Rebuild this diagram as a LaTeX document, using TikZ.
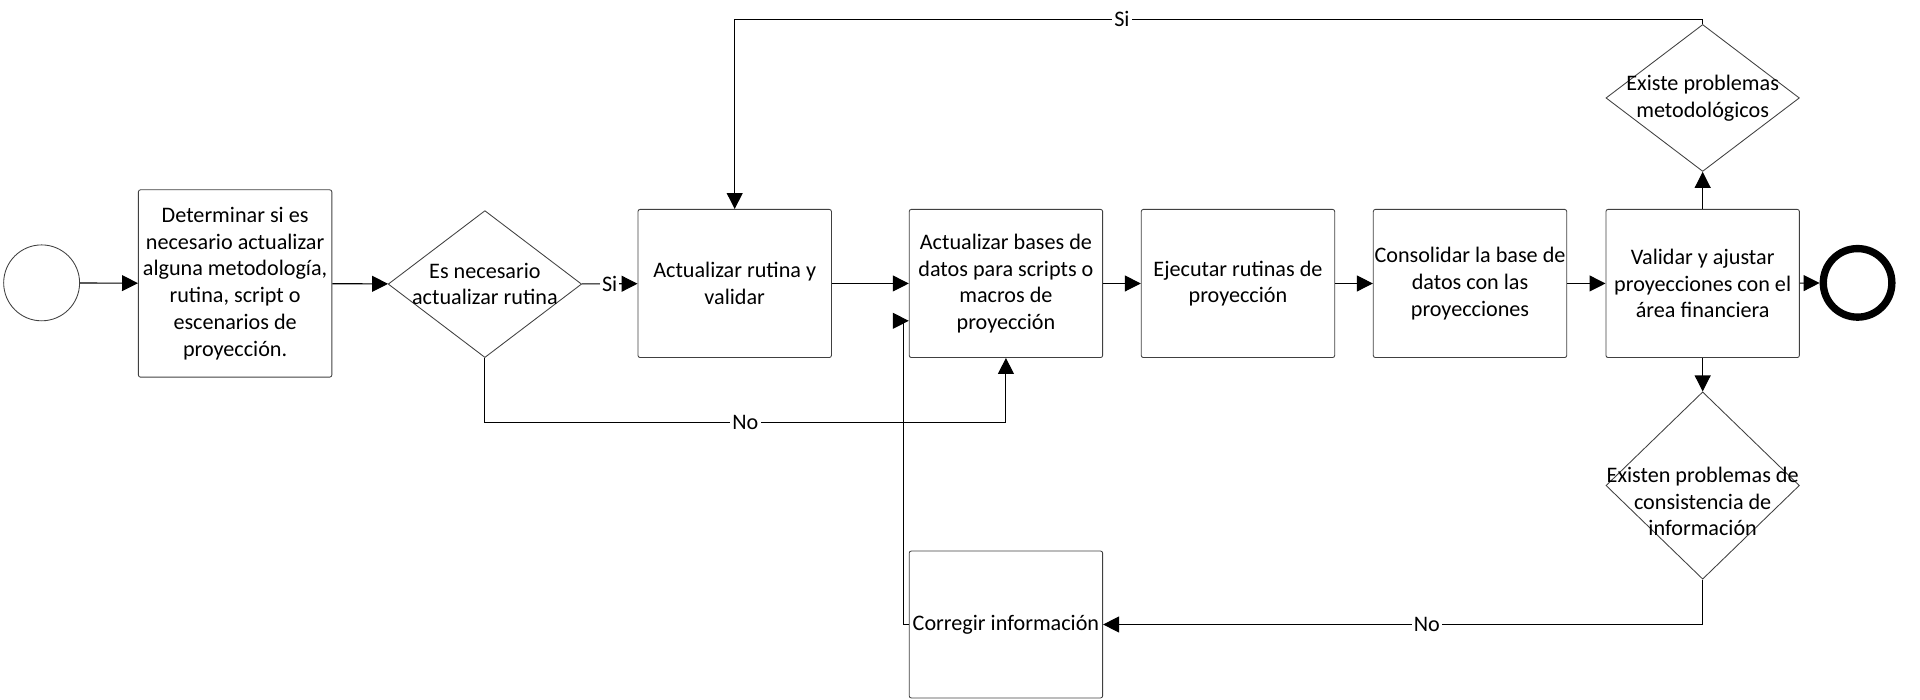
\documentclass[tikz,border=0pt]{standalone}
\usepackage{fontspec}
\setmainfont{Carlito}
\usetikzlibrary{arrows.meta,shapes.geometric}

\begin{document}
\begin{tikzpicture}[
      font=\fontsize{10.3}{12.4}\selectfont,
      caja/.style = {
        rectangle,
        draw=black!75,
        rounded corners=1pt,
        minimum width=3.16cm,
        minimum height=2.42cm,
        align=center,
        inner sep=0pt
      },
      rombo/.style = {
        diamond,
        draw=black!75,
        minimum width=3.16cm,
        minimum height=2.4cm,
        inner sep=0pt
      },
      rtxt/.style = {
        align=center
      },
      evento/.style = {
        circle,
        draw=black!75,
        minimum size=1.24cm,
        inner sep=0pt
      },
      lbl/.style = {
        fill=white,
        inner sep=1pt
      },
      arc/.style = {
        -{Triangle[length=0.26cm,width=0.26cm]},
        line width=0.5pt
      }
    ]
    \useasboundingbox (0,0) rectangle (31.36,-11.43);

    % eventos
    \node[evento] (inicio) at (0.68,-4.62) {};
    \node[evento, minimum size=1.12cm, line width=0.12cm, draw=black] (fin) at (30.34,-4.62) {};

    % tareas
    \node[caja, minimum height=3.06cm] (determinar) at (3.84,-4.63)
      {Determinar si es\\necesario actualizar\\alguna metodología,\\rutina, script o\\escenarios de\\proyección.};
    \node[caja] (rutina) at (12.0,-4.63) {Actualizar rutina y\\validar};
    \node[caja] (bases) at (16.43,-4.63)
      {Actualizar bases de\\datos para scripts o\\macros de\\proyección};
    \node[caja] (ejecutar) at (20.22,-4.63) {Ejecutar rutinas de\\proyección};
    \node[caja] (consolidar) at (24.01,-4.63)
      {Consolidar la base de\\datos con las\\proyecciones};
    \node[caja] (validar) at (27.81,-4.63)
      {Validar y ajustar\\proyecciones con el\\área financiera};
    \node[caja, minimum height=2.4cm] (corregir) at (16.43,-10.2) {Corregir información};

    % decisiones
    \node[rombo, label={[rtxt]center:{Es necesario\\actualizar rutina}}] (necesario) at (7.92,-4.64) {};
    \node[rombo, label={[rtxt]center:{Existe problemas\\metodológicos}}] (metodo) at (27.81,-1.6) {};
    \node[rombo, minimum height=3.06cm,
      label={[rtxt, yshift=-0.26cm]center:{Existen problemas de\\consistencia de\\información}}] (consistencia) at (27.81,-7.93) {};

    % flujo principal
    \foreach \a/\b in {inicio/determinar, determinar/necesario, rutina/bases,
                       bases/ejecutar, ejecutar/consolidar, consolidar/validar, validar/fin} {
      \draw[arc] (\a) -- (\b);
    }
    \draw[arc] (necesario) -- node[lbl] {Si} (rutina);
    \draw[arc] (validar) -- (metodo);
    \draw[arc] (validar) -- (consistencia);

    % retornos
    \draw[arc] (metodo.north) -- ++(0,0.08) -| node[lbl, pos=0.3] {Si} (rutina.north);
    \draw[arc] (necesario.south) -- ++(0,-1.06) -| node[lbl, pos=0.25] {No} (bases.south);
    \draw[arc] (consistencia.south) |- node[lbl, pos=0.73] {No} (corregir.east);
    \draw[arc] (corregir.west) -- ++(-0.09,0) |- ([yshift=-0.61cm]bases.west);
  \end{tikzpicture}
\end{document}
